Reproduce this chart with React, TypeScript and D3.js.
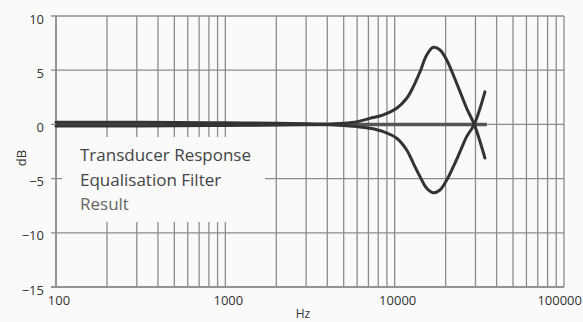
import React from 'react';
import * as d3 from 'd3';

// frequency points (Hz)
const freqs = [100, 200, 500, 1000, 2000, 3000, 4000, 5000, 6000, 7150, 8570, 10280, 11780, 12890, 14120, 15460, 16920, 18530, 20290, 22200, 24320, 26620, 29510, 34120];
const transducerDb = [0.2, 0.2, 0.18, 0.15, 0.1, 0.05, 0.02, 0.1, 0.25, 0.56, 0.87, 1.49, 2.41, 3.48, 4.86, 6.4, 7.11, 6.86, 5.94, 4.56, 3.02, 1.49, 0, -3.1];
const filterDb = [-0.15, -0.15, -0.12, -0.1, -0.05, -0.02, 0, -0.1, -0.2, -0.36, -0.67, -1.28, -2.36, -3.59, -4.82, -5.89, -6.3, -6.05, -5.13, -3.9, -2.52, -1.13, 0, 3.0];
const resultFreqs = [100, 1000, 10000, 35000];
const resultDb = [0, 0, 0, 0];

const yTicks = [10, 5, 0, -5, -10, -15];
const xLabels = [100, 1000, 10000, 100000];
const legendLabels = ['Transducer Response', 'Equalisation Filter', 'Result'];

const W = 583;
const H = 322;
const m = { left: 56, right: 19, top: 16, bottom: 35 };
const bg = '#fafafa';
const grid = '#8c8c8c';
const font = "'Open Sans', 'Noto Sans', sans-serif";

export default function App() {
  const x = d3.scaleLog().domain([100, 100000]).range([m.left, W - m.right]);
  const y = d3.scaleLinear().domain([-15, 10]).range([H - m.bottom, m.top]);

  // minor + major vertical grid lines
  const vLines: number[] = [];
  for (let dec = 100; dec < 100000; dec *= 10) {
    for (let k = 1; k < 10; k++) vLines.push(dec * k);
  }
  vLines.push(100000);

  const line = d3.line<[number, number]>()
    .x((d) => x(d[0]))
    .y((d) => y(d[1]))
    .curve(d3.curveCatmullRom.alpha(0.5));

  const tr = line(freqs.map((f, i) => [f, transducerDb[i]] as [number, number]));
  const eq = line(freqs.map((f, i) => [f, filterDb[i]] as [number, number]));
  const res = line(resultFreqs.map((f, i) => [f, resultDb[i]] as [number, number]));

  // legend box hides the grid behind it
  const box = { x0: 62, x1: 265, y0: 137, y1: 222 };

  return (
    <svg width={W} height={H} style={{ position: 'absolute', left: 0, top: 0, background: bg }}>
      <rect width={W} height={H} fill={bg} />
      {vLines.map((f) => (
        <line key={'v' + f} x1={x(f)} x2={x(f)} y1={y(10)} y2={y(-15)} stroke={grid} strokeWidth={1.3} />
      ))}
      {yTicks.map((t) => (
        <line key={'h' + t} x1={m.left - 5} x2={W - m.right} y1={y(t)} y2={y(t)} stroke={grid} strokeWidth={1.3} />
      ))}
      <rect x={box.x0} y={box.y0} width={box.x1 - box.x0} height={box.y1 - box.y0} fill={bg} />
      <line x1={m.left} x2={m.left} y1={y(10)} y2={y(-15)} stroke={grid} strokeWidth={1.5} />
      <line x1={m.left - 5} x2={W - m.right} y1={y(-15)} y2={y(-15)} stroke={grid} strokeWidth={1.5} />

      <path d={res ?? ''} fill="none" stroke="#555" strokeWidth={3.5} />
      <path d={tr ?? ''} fill="none" stroke="#333" strokeWidth={3} strokeLinecap="round" />
      <path d={eq ?? ''} fill="none" stroke="#333" strokeWidth={3} strokeLinecap="round" />

      {yTicks.map((t) => (
        <text key={'yl' + t} x={44} y={y(t) + 7.5} textAnchor="end" fontSize={13} fontFamily={font} fill="#333">
          {t < 0 ? '\u2212' + Math.abs(t) : t}
        </text>
      ))}
      {xLabels.map((f, i) => (
        <text
          key={'xl' + f}
          x={i === xLabels.length - 1 ? W - 1 : x(f) + 3}
          y={305}
          textAnchor={i === xLabels.length - 1 ? 'end' : 'middle'}
          fontSize={13}
          fontFamily={font}
          fill="#333"
        >
          {f}
        </text>
      ))}
      <text x={303} y={318} textAnchor="middle" fontSize={12} fontFamily={font} fill="#333">Hz</text>
      <text transform="translate(26,158) rotate(-90)" textAnchor="middle" fontSize={13} fontFamily={font} fill="#333">dB</text>

      {legendLabels.map((l, i) => (
        <text key={l} x={80} y={161 + i * 24.5} fontSize={17} fontFamily={font} fill={i === 2 ? '#666' : '#444'}>
          {l}
        </text>
      ))}
    </svg>
  );
}
